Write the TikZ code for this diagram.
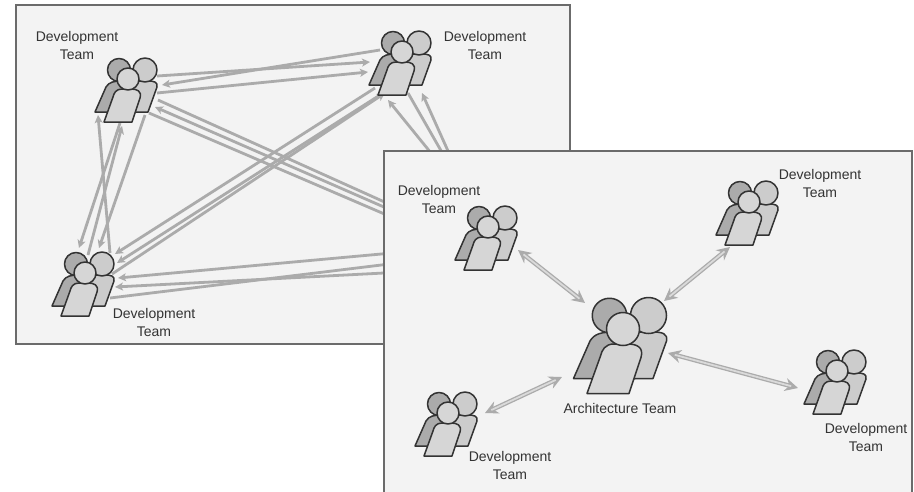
\documentclass[tikz,border=0pt]{standalone}
\usepackage{fontspec}
\setmainfont{Liberation Sans}
\usetikzlibrary{arrows.meta,calc}

\definecolor{panelfill}{HTML}{F3F3F3}
\definecolor{panelline}{HTML}{6B6B6B}
\definecolor{linkgray}{HTML}{ABABAB}
\definecolor{linklight}{HTML}{DADADA}
\definecolor{textgray}{HTML}{333333}
\definecolor{headdark}{HTML}{ABABAB}
\definecolor{headmid}{HTML}{CCCCCC}
\definecolor{headfront}{HTML}{D6D6D6}

\tikzset{
  panel/.style={fill=panelfill,draw=panelline,line width=1.6pt},
  label/.style={text=textgray,align=center,font=\fontsize{14}{18}\selectfont},
  link/.style={draw=linkgray,line width=2.8pt,-{Stealth[length=8pt,width=8pt,inset=2pt]}},
  plainlink/.style={draw=linkgray,line width=2.8pt},
  biglink/.style={draw=linkgray,line width=4.4pt,{Stealth[length=13pt,width=13pt]}-{Stealth[length=13pt,width=13pt]},
    postaction={draw=linklight,line width=1.8pt,-,shorten >=7pt,shorten <=7pt}},
  figure/.style={draw=black!80,line width=1.5pt,line join=round},
  team/.pic={
    % back left person
    \draw[figure,fill=headdark] (-33,33) -- (-22,8) .. controls (-19,3) and (-14,2) .. (-6,2) -- (8,33) -- cycle;
    \draw[figure,fill=headdark] (-9,-9) circle (11.5);
    % back right person
    \draw[figure,fill=headmid] (2,33) -- (20,33) -- (29,8) .. controls (30,3) and (26,2) .. (20,2) -- (4,2) -- cycle;
    \draw[figure,fill=headmid] (17,-9) circle (12);
    % front person
    \draw[figure,fill=headfront] (-24,43) -- (4,43) -- (12,19) .. controls (14,12) and (9,10) .. (3,10) -- (-6,10) .. controls (-12,10) and (-14,14) .. (-15,18) -- cycle;
    \draw[figure,fill=headfront] (0,0) circle (11);
  },
}

\begin{document}
\begin{tikzpicture}[x=1pt,y=-1pt]
\useasboundingbox (0,0) rectangle (914,491);

% Panel with every team linked to every team
\draw[panel] (16,5) rectangle (570,344);

\coordinate (teamA) at (128,79);
\coordinate (teamB) at (402,52);
\coordinate (teamC) at (85,273);

% Ends of the links
\coordinate (AB1a) at (162,85);
\coordinate (AB1b) at (380,50);
\coordinate (AB2a) at (157,76);
\coordinate (AB2b) at (370,62);
\coordinate (AB3a) at (157,93);
\coordinate (AB3b) at (368,72);

\coordinate (AC1a) at (120,123);
\coordinate (AC1b) at (79,248);
\coordinate (AC2a) at (145,115);
\coordinate (AC2b) at (99,248);
\coordinate (AC3a) at (122,126);
\coordinate (AC3b) at (88,255);
\coordinate (AC4a) at (98,115);
\coordinate (AC4b) at (110,253);

\coordinate (AD1a) at (158,100);
\coordinate (AD1b) at (480,245);
\coordinate (AD2a) at (155,107);
\coordinate (AD2b) at (480,249);
\coordinate (AD3a) at (149,113);
\coordinate (AD3b) at (480,255);

\coordinate (BC1a) at (375,88);
\coordinate (BC1b) at (115,254);
\coordinate (BC2a) at (380,95);
\coordinate (BC2b) at (117,263);
\coordinate (BC3a) at (385,93);
\coordinate (BC3b) at (112,274);

\coordinate (BD1a) at (388,100);
\coordinate (BD1b) at (470,201);
\coordinate (BD2a) at (408,93);
\coordinate (BD2b) at (475,210);
\coordinate (BD3a) at (422,93);
\coordinate (BD3b) at (470,200);

\coordinate (CD1a) at (118,278);
\coordinate (CD1b) at (480,245);
\coordinate (CD2a) at (115,287);
\coordinate (CD2b) at (480,268);
\coordinate (CD3a) at (110,298);
\coordinate (CD3b) at (480,253);

\draw[link] (AB1b) -- (AB1a);
\draw[link] (AB2a) -- (AB2b);
\draw[link] (AB3a) -- (AB3b);
\draw[link] (AC1a) -- (AC1b);
\draw[link] (AC2a) -- (AC2b);
\draw[link] (AC3b) -- (AC3a);
\draw[link] (AC4b) -- (AC4a);
\draw[plainlink] (AD1a) -- (AD1b);
\draw[link] (AD2b) -- (AD2a);
\draw[plainlink] (AD3a) -- (AD3b);
\draw[link] (BC1a) -- (BC1b);
\draw[link] (BC2a) -- (BC2b);
\draw[link] (BC3b) -- (BC3a);
\draw[link] (BD1b) -- (BD1a);
\draw[plainlink] (BD2a) -- (BD2b);
\draw[link] (BD3b) -- (BD3a);
\draw[link] (CD1b) -- (CD1a);
\draw[link] (CD2b) -- (CD2a);
\draw[plainlink] (CD3a) -- (CD3b);

\pic at (teamA) {team};
\pic at (teamB) {team};
\pic at (teamC) {team};

\node[label] (labelA) at (77,45) {Development\\Team};
\node[label] (labelB) at (485,45) {Development\\Team};
\node[label] (labelC) at (154,322) {Development\\Team};

% Panel with every team linked to the architecture team
\draw[panel] (384,151) rectangle (912,495);

\coordinate (teamE) at (488,227);
\coordinate (teamF) at (749,202);
\coordinate (teamG) at (623,329);
\coordinate (teamH) at (448,413);
\coordinate (teamI) at (837,371);

\coordinate (EGa) at (518,250);
\coordinate (EGb) at (585,303);
\coordinate (FGa) at (730,247);
\coordinate (FGb) at (664,301);
\coordinate (IGa) at (798,388);
\coordinate (IGb) at (668,353);
\coordinate (HGa) at (485,413);
\coordinate (HGb) at (562,377);

\draw[biglink] (EGa) -- (EGb);
\draw[biglink] (FGa) -- (FGb);
\draw[biglink] (IGa) -- (IGb);
\draw[biglink] (HGa) -- (HGb);

\pic at (teamE) {team};
\pic at (teamF) {team};
\pic[scale=1.5] at (teamG) {team};
\pic at (teamH) {team};
\pic at (teamI) {team};

\node[label] (labelE) at (439,199) {Development\\Team};
\node[label] (labelF) at (820,183) {Development\\Team};
\node[label] (labelG) at (620,408) {Architecture Team};
\node[label] (labelH) at (510,465) {Development\\Team};
\node[label] (labelI) at (866,437) {Development\\Team};
\end{tikzpicture}
\end{document}
